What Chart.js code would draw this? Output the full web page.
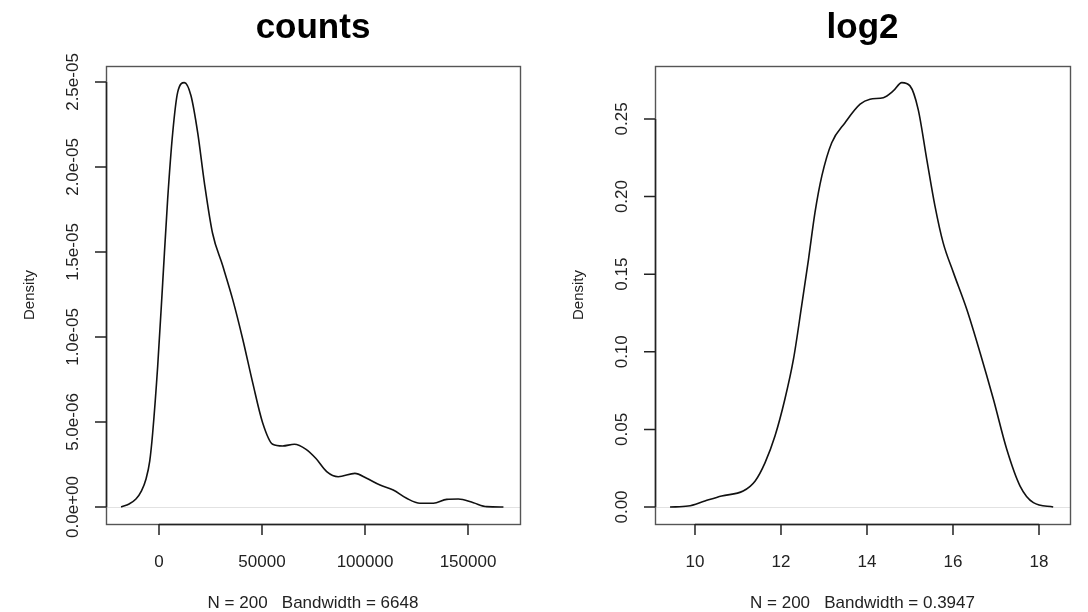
<!DOCTYPE html>
<html>
<head>
<meta charset="utf-8">
<script src="https://cdn.jsdelivr.net/npm/chart.js@4"></script>
<style>
  html, body { margin: 0; padding: 0; background: #fff; }
  .panel { position: absolute; top: 0; width: 544px; height: 612px; }
  #left { left: 0; }
  #right { left: 544px; }
</style>
</head>
<body>
<div class="panel" id="left"><canvas id="countsChart"></canvas></div>
<div class="panel" id="right"><canvas id="log2Chart"></canvas></div>
<script>
// density estimate of raw counts
const countsX = [-18400, -14500, -11200, -8500, -6300, -4500, -3060, -630, 1800, 4200, 6650, 9080, 12300,
  15500, 18800, 22000, 26000, 30900, 35800, 40600, 45500, 50300, 55200, 60000, 65700, 71400, 76200,
  81400, 87000, 95100, 100800, 107300, 113700, 120200, 126700, 133200, 139700, 145300, 152600, 159100, 167200];
const countsY = [0.0, 0.18e-6, 0.47e-6, 0.95e-6, 1.65e-6, 2.7e-6, 4.37e-6, 8.29e-6, 13.2e-6, 18.1e-6,
  22.0e-6, 24.4e-6, 24.96e-6, 24.2e-6, 22.0e-6, 19.1e-6, 16.1e-6, 14.2e-6, 12.2e-6, 9.9e-6, 7.3e-6,
  4.96e-6, 3.69e-6, 3.59e-6, 3.69e-6, 3.39e-6, 2.85e-6, 2.08e-6, 1.78e-6, 1.98e-6, 1.69e-6, 1.29e-6,
  1.0e-6, 0.51e-6, 0.22e-6, 0.22e-6, 0.45e-6, 0.47e-6, 0.25e-6, 0.02e-6, 0.0];

// density estimate of log2 counts
const log2X = [9.42, 9.84, 10.23, 10.62, 11.12, 11.40, 11.63, 11.86, 12.09, 12.29, 12.48, 12.64, 12.79,
  12.95, 13.18, 13.49, 13.84, 14.07, 14.38, 14.61, 14.81, 15.0, 15.19, 15.39, 15.58, 15.77, 16.01,
  16.32, 16.63, 16.94, 17.25, 17.56, 17.87, 18.33];
const log2Y = [0.0, 0.0006, 0.0039, 0.0071, 0.0103, 0.0168, 0.0286, 0.0457, 0.0694, 0.0952, 0.1295,
  0.1596, 0.1896, 0.2133, 0.2347, 0.2476, 0.2595, 0.2627, 0.2637, 0.268, 0.2734, 0.2713, 0.2562,
  0.224, 0.194, 0.1703, 0.151, 0.1274, 0.0994, 0.0694, 0.0372, 0.0135, 0.0028, 0.0];

const countsXTicks = [0, 50000, 100000, 150000];
const countsXLabels = ['0', '50000', '100000', '150000'];
const countsYTicks = [0, 5e-6, 1e-5, 1.5e-5, 2e-5, 2.5e-5];
const countsYLabels = ['0.0e+00', '5.0e-06', '1.0e-05', '1.5e-05', '2.0e-05', '2.5e-05'];

const log2XTicks = [10, 12, 14, 16, 18];
const log2XLabels = ['10', '12', '14', '16', '18'];
const log2YTicks = [0, 0.05, 0.10, 0.15, 0.20, 0.25];
const log2YLabels = ['0.00', '0.05', '0.10', '0.15', '0.20', '0.25'];

const FONT = '"Liberation Sans", Arial, Helvetica, sans-serif';

// R-style decorations: box, axes with outside ticks, titles
const basePlot = {
  id: 'basePlot',
  beforeDatasetsDraw(chart, args, opts) {
    const { ctx, chartArea: a, scales: { y } } = chart;
    const y0 = Math.round(y.getPixelForValue(0)) + 0.5;
    ctx.save();
    ctx.strokeStyle = '#e2e2e2';
    ctx.lineWidth = 1;
    ctx.beginPath();
    ctx.moveTo(a.left, y0);
    ctx.lineTo(a.right, y0);
    ctx.stroke();
    ctx.restore();
  },
  afterDraw(chart, args, opts) {
    const { ctx, chartArea: a, scales: { x, y } } = chart;
    ctx.save();

    ctx.strokeStyle = '#555';
    ctx.lineWidth = 1.4;
    ctx.strokeRect(a.left + 0.5, a.top + 0.5, a.right - a.left, a.bottom - a.top);

    ctx.strokeStyle = '#222';
    ctx.lineWidth = 1.5;
    ctx.fillStyle = '#222';
    ctx.font = '17px ' + FONT;

    // x axis
    const xs = opts.xTicks.map(v => x.getPixelForValue(v));
    ctx.beginPath();
    ctx.moveTo(xs[0], a.bottom + 0.5);
    ctx.lineTo(xs[xs.length - 1], a.bottom + 0.5);
    xs.forEach(px => {
      ctx.moveTo(px, a.bottom);
      ctx.lineTo(px, a.bottom + 11);
    });
    ctx.stroke();
    ctx.textAlign = 'center';
    ctx.textBaseline = 'middle';
    xs.forEach((px, i) => ctx.fillText(opts.xLabels[i], px, a.bottom + 38));

    // y axis
    const ys = opts.yTicks.map(v => y.getPixelForValue(v));
    ctx.beginPath();
    ctx.moveTo(a.left + 0.5, ys[0]);
    ctx.lineTo(a.left + 0.5, ys[ys.length - 1]);
    ys.forEach(py => {
      ctx.moveTo(a.left, py);
      ctx.lineTo(a.left - 11, py);
    });
    ctx.stroke();
    ys.forEach((py, i) => {
      ctx.save();
      ctx.translate(a.left - 33, py);
      ctx.rotate(-Math.PI / 2);
      ctx.fillText(opts.yLabels[i], 0, 0);
      ctx.restore();
    });

    // axis title
    ctx.font = '15px ' + FONT;
    ctx.save();
    ctx.translate(a.left - 76, (a.top + a.bottom) / 2);
    ctx.rotate(-Math.PI / 2);
    ctx.fillText('Density', 0, 0);
    ctx.restore();

    // subtitle
    ctx.font = '17px ' + FONT;
    ctx.fillText(opts.sub, (a.left + a.right) / 2, a.bottom + 79);

    // main title
    ctx.fillStyle = '#000';
    ctx.font = 'bold 35px ' + FONT;
    ctx.textBaseline = 'alphabetic';
    ctx.fillText(opts.title, (a.left + a.right) / 2, 38);

    ctx.restore();
  }
};

function densityChart(canvasId, xs, ys, range, padding, deco) {
  return new Chart(document.getElementById(canvasId), {
    type: 'line',
    data: {
      datasets: [{
        data: xs.map((v, i) => ({ x: v, y: ys[i] })),
        borderColor: '#111',
        borderWidth: 1.6,
        pointRadius: 0,
        fill: false,
        cubicInterpolationMode: 'monotone',
      }],
    },
    options: {
      responsive: true,
      maintainAspectRatio: false,
      animation: false,
      parsing: false,
      layout: { padding },
      scales: {
        x: { type: 'linear', display: false, min: range.xMin, max: range.xMax },
        y: { type: 'linear', display: false, min: range.yMin, max: range.yMax },
      },
      plugins: {
        legend: { display: false },
        tooltip: { enabled: false },
        basePlot: deco,
      },
    },
    plugins: [basePlot],
  });
}

densityChart('countsChart', countsX, countsY,
  { xMin: -25728, xMax: 175243, yMin: -1.0e-6, yMax: 2.594e-5 },
  { left: 106, right: 24, top: 66, bottom: 88 },
  { title: 'counts', sub: 'N = 200   Bandwidth = 6648',
    xTicks: countsXTicks, xLabels: countsXLabels, yTicks: countsYTicks, yLabels: countsYLabels });

densityChart('log2Chart', log2X, log2Y,
  { xMin: 9.070, xMax: 18.721, yMin: -0.01095, yMax: 0.2841 },
  { left: 111, right: 18, top: 66, bottom: 88 },
  { title: 'log2', sub: 'N = 200   Bandwidth = 0.3947',
    xTicks: log2XTicks, xLabels: log2XLabels, yTicks: log2YTicks, yLabels: log2YLabels });
</script>
</body>
</html>
